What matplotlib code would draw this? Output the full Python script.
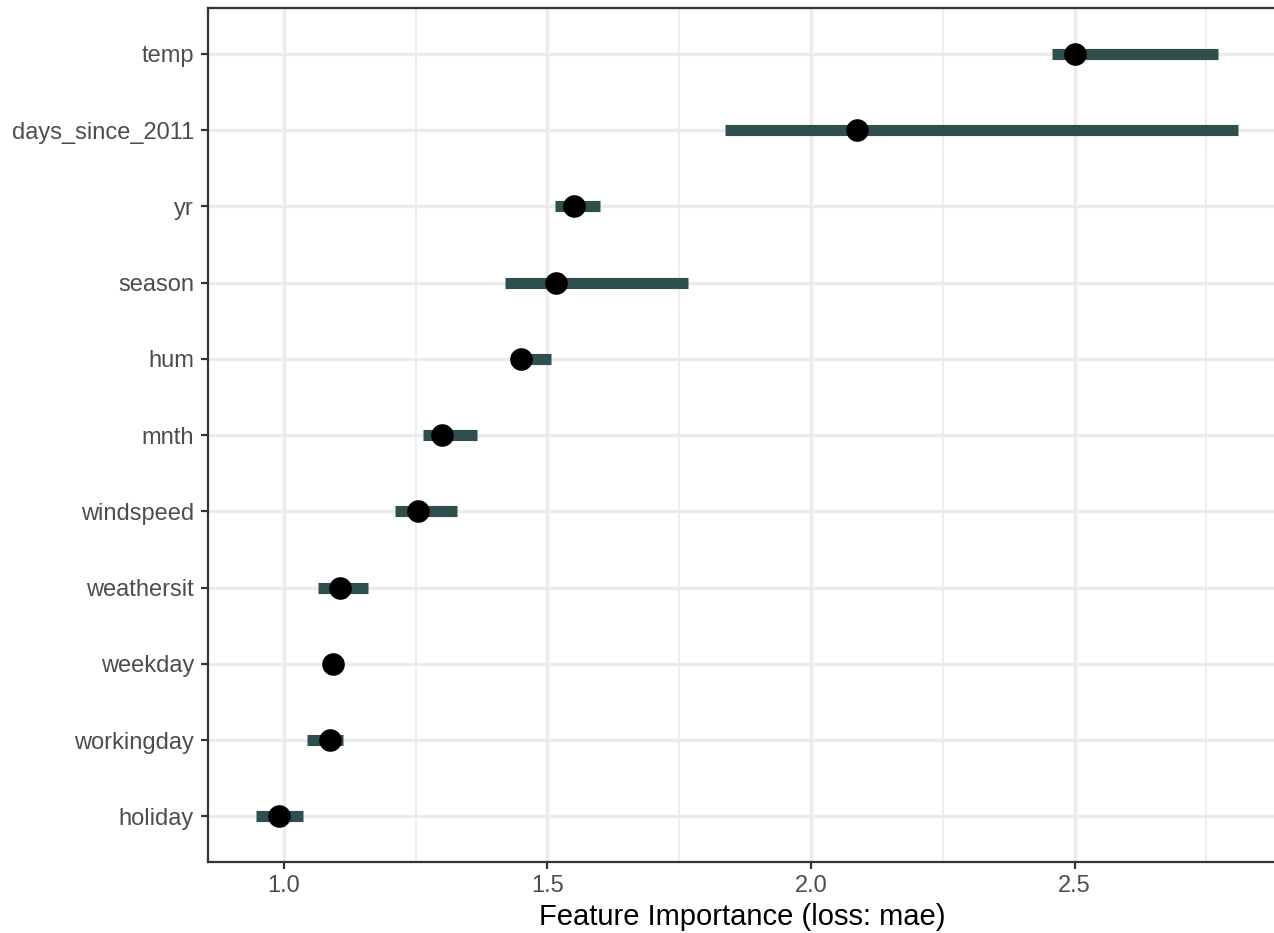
import matplotlib
matplotlib.use("Agg")
import matplotlib.pyplot as plt
import numpy as np

features = ["temp", "days_since_2011", "yr", "season", "hum", "mnth",
            "windspeed", "weathersit", "weekday", "workingday", "holiday"]
importance = [2.501, 2.088, 1.551, 1.516, 1.449, 1.299, 1.254, 1.107, 1.094, 1.088, 0.991]
lower = [2.457, 1.837, 1.514, 1.419, 1.430, 1.263, 1.210, 1.065, 1.085, 1.043, 0.948]
upper = [2.772, 2.810, 1.600, 1.767, 1.506, 1.366, 1.328, 1.159, 1.100, 1.113, 1.037]
x_ticks = [1.0, 1.5, 2.0, 2.5]
x_minor = [1.25, 1.75, 2.25, 2.75]
x_label = "Feature Importance (loss: mae)"

plt.rcParams['font.family'] = ['Liberation Sans', 'DejaVu Sans']

W, H = 1274, 933
fig = plt.figure(figsize=(W / 100, H / 100), dpi=100)
ax = fig.add_axes([208 / W, (933 - 862) / H, (W - 208) / W + 0.002, (862 - 8) / H])

n = len(features)
ypos = np.arange(n, 0, -1)

ax.hlines(ypos, lower, upper, color="#2F4F4F", linewidth=8, capstyle="butt", zorder=3)
ax.scatter(importance, ypos, s=265, color="black", zorder=4, linewidths=0)

ax.set_xlim(0.856, 2.883)
ax.set_ylim(0.4, n + 0.6)
ax.set_xticks(x_ticks)
ax.set_xticklabels([f"{v:.1f}" for v in x_ticks])
ax.set_xticks(x_minor, minor=True)
ax.set_yticks(ypos)
ax.set_yticklabels(features)

ax.grid(True, which="major", color="#EBEBEB", linewidth=2.4, zorder=0)
ax.grid(True, which="minor", axis="x", color="#EBEBEB", linewidth=1.2, zorder=0)
ax.set_axisbelow(True)

ax.tick_params(axis="both", which="major", length=5, width=1.6, color="#333333",
               labelcolor="#4D4D4D", labelsize=17, pad=4)
ax.tick_params(axis="y", which="major", pad=5)
ax.tick_params(axis="x", which="minor", length=0)

for side, sp in ax.spines.items():
    sp.set_color("#333333")
    sp.set_linewidth(1.6)
ax.spines["right"].set_visible(False)

ax.set_xlabel(x_label, fontsize=21, color="black", labelpad=5)

fig.savefig("out.png", dpi=100)
